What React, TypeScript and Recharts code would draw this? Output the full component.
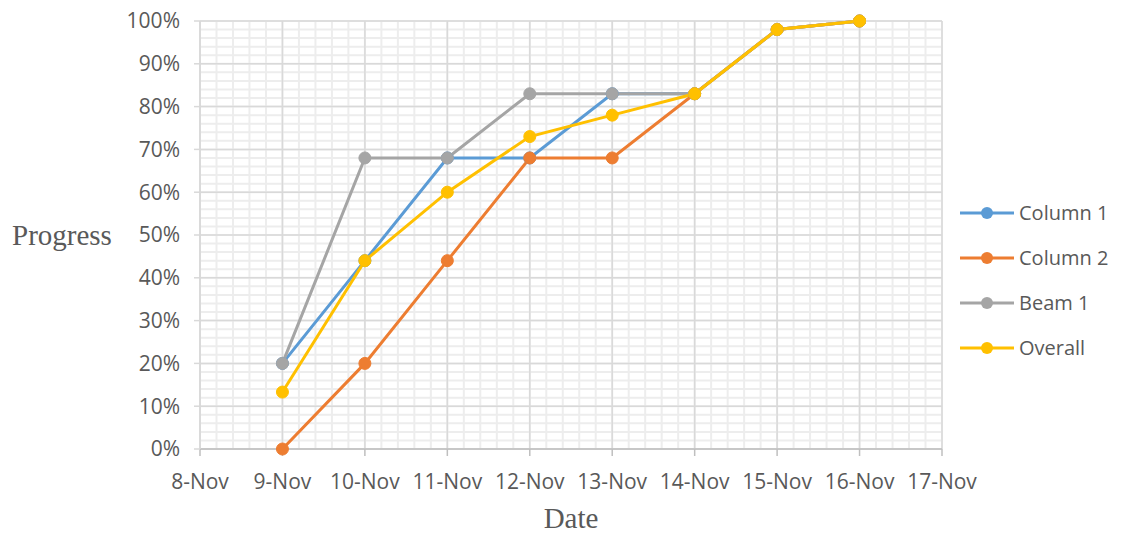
import { CartesianGrid, Line, LineChart, XAxis, YAxis } from "recharts"

const days = [9, 10, 11, 12, 13, 14, 15, 16]
const column1 = [20, 44, 68, 68, 83, 83, 98, 100]
const column2 = [0, 20, 44, 68, 68, 83, 98, 100]
const beam1 = [20, 68, 68, 83, 83, 83, 98, 100]
const overall = [13.3, 44, 60, 73, 78, 83, 98, 100]

const xTicks = [8, 9, 10, 11, 12, 13, 14, 15, 16, 17]
const yTicks = [0, 10, 20, 30, 40, 50, 60, 70, 80, 90, 100]

const series = [
  { key: "c1", name: "Column 1", color: "#5B9BD5" },
  { key: "c2", name: "Column 2", color: "#ED7D31" },
  { key: "b1", name: "Beam 1", color: "#A5A5A5" },
  { key: "ov", name: "Overall", color: "#FFC000" },
]

const data = days.map((d, i) => ({
  day: d,
  c1: column1[i],
  c2: column2[i],
  b1: beam1[i],
  ov: overall[i],
}))

// minor grid: 5 steps per major
const minorX: number[] = []
for (let i = 0; i <= 45; i++) minorX.push(8 + i * 0.2)
const minorY: number[] = []
for (let i = 0; i <= 50; i++) minorY.push(i * 2)

const font = "'Open Sans', sans-serif"
const serif = "'Liberation Serif', serif"
const textColor = "#595959"

function LegendBox() {
  return (
    <div
      style={{
        position: "absolute",
        left: 958,
        top: 190,
        fontFamily: font,
        fontSize: 20,
        color: textColor,
      }}
    >
      {series.map((s) => (
        <div key={s.key} style={{ display: "flex", alignItems: "center", height: 45 }}>
          <svg width={58} height={14} style={{ marginRight: 3 }}>
            <line x1={2} y1={7} x2={56} y2={7} stroke={s.color} strokeWidth={3} />
            <circle cx={29} cy={7} r={6} fill={s.color} />
          </svg>
          <span>{s.name}</span>
        </div>
      ))}
    </div>
  )
}

export default function App() {
  return (
    <div style={{ position: "absolute", left: 0, top: 0, width: 1125, height: 534, background: "#fff" }}>
      <LineChart
        width={1125}
        height={534}
        data={data}
        margin={{ top: 21, right: 183, bottom: 0, left: 0 }}
      >
        <CartesianGrid
          horizontalValues={minorY}
          verticalValues={minorX}
          stroke="#ededed"
          strokeWidth={2}
        />
        <CartesianGrid stroke="#d9d9d9" strokeWidth={1.5} />
        <XAxis
          dataKey="day"
          type="number"
          domain={[8, 17]}
          ticks={xTicks}
          interval={0}
          height={85}
          tickFormatter={(v) => `${v}-Nov`}
          tick={{ fontFamily: font, fontSize: 21, fill: textColor }}
          stroke="#bfbfbf"
          strokeWidth={1.5}
          tickSize={7}
          tickMargin={18}
          label={{
            value: "Date",
            position: "insideBottom",
            offset: 6,
            style: { fontFamily: serif, fontSize: 29, fill: textColor },
          }}
        />
        <YAxis
          type="number"
          domain={[0, 100]}
          ticks={yTicks}
          interval={0}
          width={200}
          tickFormatter={(v) => `${v}%`}
          tick={{ fontFamily: font, fontSize: 21, fill: textColor }}
          stroke="#d9d9d9"
          strokeWidth={1.5}
          tickSize={6}
          tickMargin={14}
          label={{
            value: "Progress",
            position: "insideLeft",
            offset: 12,
            style: { fontFamily: serif, fontSize: 29, fill: textColor },
          }}
        />
        {series.map((s) => (
          <Line
            key={s.key}
            dataKey={s.key}
            name={s.name}
            stroke={s.color}
            strokeWidth={3}
            dot={{ r: 6, fill: s.color, stroke: s.color, strokeWidth: 1 }}
            isAnimationActive={false}
          />
        ))}
      </LineChart>
      <LegendBox />
    </div>
  )
}
